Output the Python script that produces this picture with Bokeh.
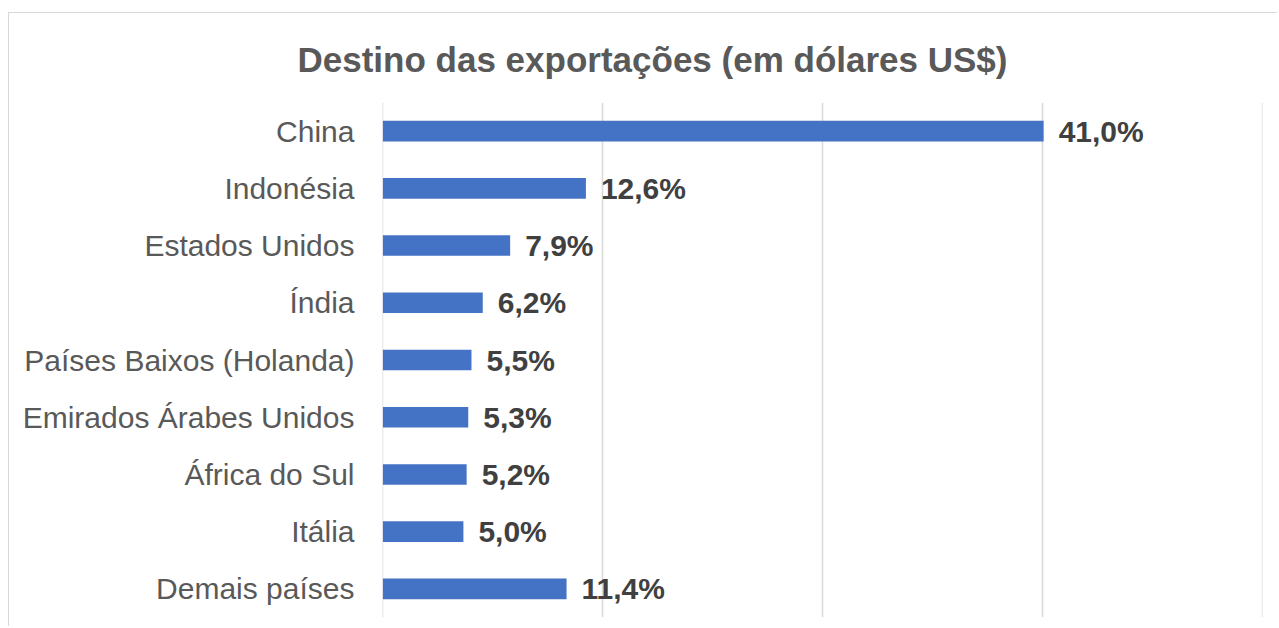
from bokeh.plotting import figure
from bokeh.models import ColumnDataSource, FactorRange, Range1d, FixedTicker, Title
from bokeh.core.properties import value
from bokeh.embed import file_html
from bokeh.resources import INLINE
import numpy as np

categories = ["China", "Indonésia", "Estados Unidos", "Índia", "Países Baixos (Holanda)",
              "Emirados Árabes Unidos", "África do Sul", "Itália", "Demais países"]
values = [41.0, 12.6, 7.9, 6.2, 5.5, 5.3, 5.2, 5.0, 11.4]
labels = [f"{v:.1f}%".replace(".", ",") for v in values]
title_text = "Destino das exportações (em dólares US$)"

FONT = "Liberation Sans"
XMAX = 54.56

src = ColumnDataSource(dict(cat=categories, val=values, lab=labels))

p = figure(width=1269, height=614, output_backend="svg", toolbar_location=None,
           y_range=FactorRange(*categories[::-1]), x_range=Range1d(-0.02, XMAX + 0.02),
           min_border_left=373, min_border_right=16, min_border_top=88, min_border_bottom=10)
p.margin = (12, 0, 0, 8)
p.styles = {"border-top": "1.5px solid #d9d9d9", "border-left": "1.5px solid #d9d9d9"}

p.hbar(y="cat", right="val", left=0, height=0.36, source=src,
       fill_color="#4472C4", line_color=None)
p.text(x="val", y="cat", text="lab", source=src, x_offset=15, text_baseline="middle",
       text_align="left", text_font=value(FONT), text_font_size="30px",
       text_font_style="bold", text_color="#404040")

p.xaxis.visible = False
p.xgrid.ticker = FixedTicker(ticks=list(np.linspace(0, XMAX, 5)))
p.xgrid.grid_line_color = "#d9d9d9"
p.xgrid.grid_line_width = 1.5
p.ygrid.grid_line_color = None

ya = p.yaxis[0]
ya.axis_line_color = None
ya.major_tick_line_color = None
ya.minor_tick_line_color = None
ya.major_tick_out = 0
ya.major_tick_in = 0
ya.major_label_standoff = 28
ya.major_label_text_font = FONT
ya.major_label_text_font_size = "30px"
ya.major_label_text_color = "#595959"

p.outline_line_color = None

t = Title(text=title_text, align="left", offset=-85, text_font=FONT,
          text_font_size="35px", text_font_style="bold", text_color="#595959",
          standoff=48)
p.add_layout(t, "above")

open("out.html", "w").write(file_html(p, INLINE))
